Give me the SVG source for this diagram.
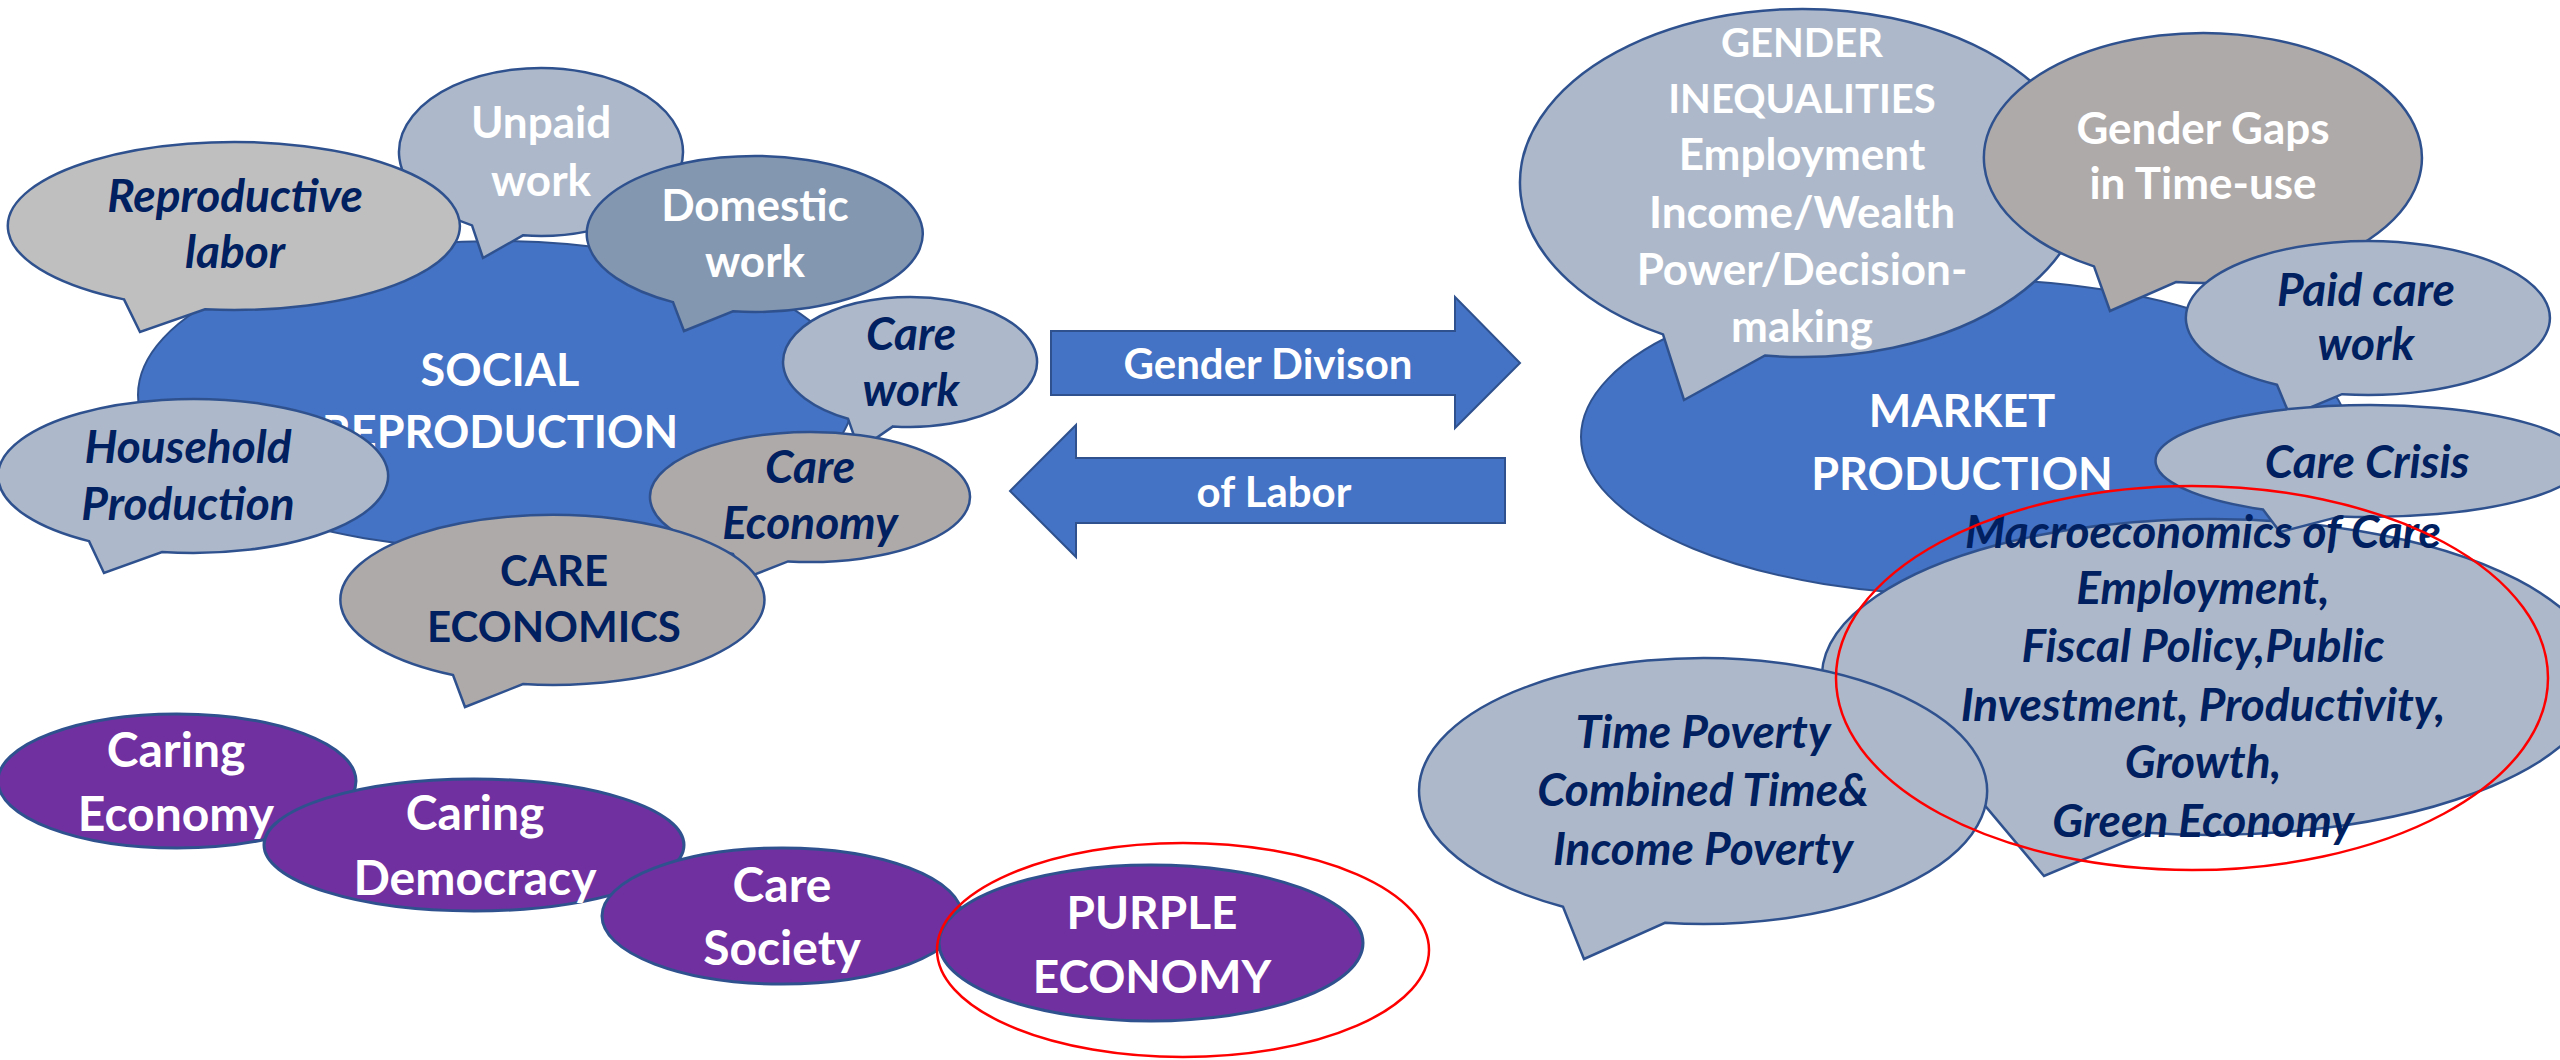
<svg xmlns="http://www.w3.org/2000/svg" width="2560" height="1060" viewBox="0 0 2560 1060">
<style>
.bub{stroke:#2F528F;stroke-width:2.5}
.big{fill:#4472C4;stroke:#2F528F;stroke-width:2}
.lb{fill:#ADB9CA}
.lg{fill:#BFBFBF}
.db{fill:#8497B0}
.wg{fill:#AEAAAA}
.pu{fill:#7030A0;stroke:#2F528F;stroke-width:3}
.ring{fill:none;stroke:#FF0000;stroke-width:2.5}
.arr{fill:#4472C4;stroke:#2F528F;stroke-width:2}
text{font-family:Lato,"Open Sans","Liberation Sans",sans-serif;font-weight:bold;text-anchor:middle}
.w{fill:#FFFFFF}
.n{fill:#002060;font-style:italic;font-size:46px}
.nu{fill:#002060}
.f40{font-size:40px}
.f42{font-size:42px}
.f44{font-size:44px}
.f45{font-size:45px}
.f46{font-size:46px}
.f48{font-size:48px}
</style>

<!-- LEFT CLUSTER -->
<g id="social-reproduction">
<ellipse class="big" cx="496" cy="395" rx="358" ry="154"/>
<text class="w f45" x="500" y="386">SOCIAL</text>
<text class="w f45" x="500" y="448">REPRODUCTION</text>
</g>
<g id="unpaid-work">
<path class="bub lb" d="M472,225.4 L483,258 L523,235.3 A142,84 0 1 0 472,225.4 Z"/>
<text class="w f44" x="541" y="138">Unpaid</text>
<text class="w f44" x="541" y="196">work</text>
</g>
<g id="reproductive-labor">
<path class="bub lg" d="M124,299.4 L140,332 L205,309.3 A226,84 0 1 0 124,299.4 Z"/>
<text class="n" x="235" y="212">Reproductive</text>
<text class="n" x="235" y="268">labor</text>
</g>
<g id="domestic-work">
<path class="bub db" d="M673,302.1 L684,331 L733,311.3 A168,78 0 1 0 673,302.1 Z"/>
<text class="w f44" x="755" y="221">Domestic</text>
<text class="w f44" x="755" y="277">work</text>
</g>
<g id="care-work">
<path class="bub lb" d="M848,418.7 L859,450 L893,426.4 A127,65 0 1 0 848,418.7 Z"/>
<text class="n" x="911" y="350">Care</text>
<text class="n" x="911" y="406">work</text>
</g>
<g id="household-production">
<path class="bub lb" d="M89,541.1 L104,573 L162,552 A195,77 0 1 0 89,541.1 Z"/>
<text class="n" x="188" y="463">Household</text>
<text class="n" x="188" y="520">Production</text>
</g>
<g id="care-economy">
<path class="bub wg" d="M733,554 L746,578 L788,561.4 A160,65 0 1 0 733,554 Z"/>
<text class="n" x="810" y="483">Care</text>
<text class="n" x="810" y="539">Economy</text>
</g>
<g id="care-economics">
<path class="bub wg" d="M453,675 L465,707 L523,684.1 A212,85 0 1 0 453,675 Z"/>
<text class="nu f42" x="554" y="586">CARE</text>
<text class="nu f42" x="554" y="642">ECONOMICS</text>
</g>

<!-- PURPLE CHAIN -->
<g id="caring-economy">
<ellipse class="pu" cx="177" cy="781" rx="179" ry="67"/>
<text class="w f48" x="176" y="767">Caring</text>
<text class="w f48" x="176" y="831">Economy</text>
</g>
<g id="caring-democracy">
<ellipse class="pu" cx="474" cy="845" rx="210" ry="66"/>
<text class="w f48" x="475" y="830">Caring</text>
<text class="w f48" x="475" y="895">Democracy</text>
</g>
<g id="care-society">
<ellipse class="pu" cx="782" cy="916" rx="180" ry="68"/>
<text class="w f48" x="782" y="902">Care</text>
<text class="w f48" x="782" y="965">Society</text>
</g>
<g id="purple-economy">
<ellipse class="pu" cx="1151" cy="943" rx="212" ry="78"/>
<text class="w f46" x="1152" y="929">PURPLE</text>
<text class="w f46" x="1152" y="993">ECONOMY</text>
</g>

<!-- CONNECTORS: block arrows -->
<g id="connectors">
<g id="arrow-gender-division">
<polygon class="arr" points="1051,331 1455,331 1455,297 1520,363 1455,428 1455,395 1051,395"/>
<text class="w f42" x="1268" y="379">Gender Divison</text>
</g>
<g id="arrow-of-labor">
<polygon class="arr" points="1505,458 1076,458 1076,425 1010,491 1076,557 1076,523 1505,523"/>
<text class="w f42" x="1274" y="507">of Labor</text>
</g>
</g>

<!-- RIGHT CLUSTER -->
<g id="market-production">
<ellipse class="big" cx="1965" cy="437" rx="384" ry="158"/>
<text class="w f45" x="1962" y="427">MARKET</text>
<text class="w f45" x="1962" y="490">PRODUCTION</text>
</g>
<g id="gender-inequalities">
<path class="bub lb" d="M1663,334.4 L1684,400 L1765,355.5 A282,174 0 1 0 1663,334.4 Z"/>
<text class="w f40" x="1802" y="57">GENDER</text>
<text class="w f40" x="1802" y="113">INEQUALITIES</text>
<text class="w f44" x="1802" y="170">Employment</text>
<text class="w f44" x="1802" y="228">Income/Wealth</text>
<text class="w f44" x="1802" y="285">Power/Decision-</text>
<text class="w f44" x="1802" y="342">making</text>
</g>
<g id="gender-gaps">
<path class="bub wg" d="M2094,266.4 L2110,311 L2176,282 A219,125 0 1 0 2094,266.4 Z"/>
<text class="w f44" x="2203" y="144">Gender Gaps</text>
<text class="w f44" x="2203" y="199">in Time-use</text>
</g>
<g id="paid-care-work">
<path class="bub lb" d="M2277,384.7 L2290,416 L2342,394.2 A182,77 0 1 0 2277,384.7 Z"/>
<text class="n" x="2366" y="306">Paid care</text>
<text class="n" x="2366" y="360">work</text>
</g>
<g id="macroeconomics-of-care">
<path class="bub lb" d="M1985,805.6 L2044,876 L2147,832.8 A389,158 0 1 0 1985,805.6 Z"/>
</g>
<g id="care-crisis">
<path class="bub lb" d="M2263,509.5 L2280,532 L2340,516.4 A214,56 0 1 0 2263,509.5 Z"/>
<text class="n" x="2367" y="478">Care Crisis</text>
</g>
<g id="time-poverty">
<path class="bub lb" d="M1563,906.7 L1584,959 L1665,922.8 A284,133 0 1 0 1563,906.7 Z"/>
<text class="n" x="1703" y="748">Time Poverty</text>
<text class="n" x="1703" y="806">Combined Time&amp;</text>
<text class="n" x="1703" y="865">Income Poverty</text>
</g>
<g id="macroeconomics-of-care-label">
<text class="n" x="2203" y="548">Macroeconomics of Care</text>
<text class="n" x="2203" y="604">Employment,</text>
<text class="n" x="2203" y="662">Fiscal Policy,Public</text>
<text class="n" x="2203" y="721">Investment, Productivity,</text>
<text class="n" x="2203" y="778">Growth,</text>
<text class="n" x="2203" y="837">Green Economy</text>
</g>

<!-- HIGHLIGHT RINGS -->
<g id="highlights">
<ellipse class="ring" cx="2192" cy="678" rx="356" ry="192"/>
<ellipse class="ring" cx="1183" cy="950" rx="246" ry="107"/>
</g>
</svg>
